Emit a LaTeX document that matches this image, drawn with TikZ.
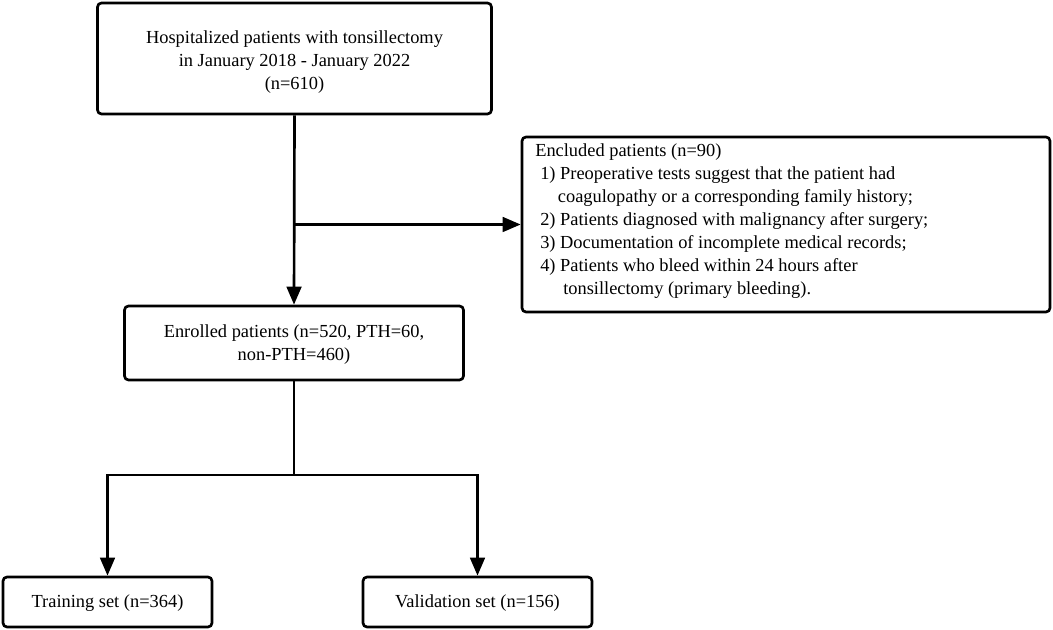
\documentclass[tikz,border=0pt]{standalone}
\usepackage{fontspec}
\setmainfont{Liberation Serif}
\usetikzlibrary{arrows.meta}
\begin{document}
\begin{tikzpicture}[x=0.75pt,y=-0.75pt,
  box/.style={draw, line width=2pt, rounded corners=3pt, inner sep=0pt},
  txt/.style={font=\fontsize{13.8pt}{17.25pt}\selectfont, inner sep=0pt, align=center},
  conn/.style={line width=2pt},
  arr/.style={line width=2pt, -{Triangle[length=13.5pt,width=11pt]}}]
\useasboundingbox (0,0) rectangle (1053,630);
\node[box, minimum width=295.5pt, minimum height=83.25pt] (top) at (294.5,58.5) {};
\node[txt] (toptxt) at (294.5,62) {Hospitalized patients with tonsillectomy\\in January 2018 - January 2022\\(n=610)};
\node[box, minimum width=396pt, minimum height=131.25pt] (excl) at (786,224.5) {};
\node[txt, align=left, anchor=north west] (excltxt) at (535,143) {Encluded patients (n=90)\\
\hspace*{3.75pt}1) Preoperative tests suggest that the patient had\\
\hspace*{17pt}coagulopathy or a corresponding family history;\\
\hspace*{3.75pt}2) Patients diagnosed with malignancy after surgery;\\
\hspace*{3.75pt}3) Documentation of incomplete medical records;\\
\hspace*{3.75pt}4) Patients who bleed within 24 hours after\\
\hspace*{21pt}tonsillectomy (primary bleeding).};
\node[box, minimum width=254.25pt, minimum height=55.5pt] (enr) at (294,343) {};
\node[txt] (enrtxt) at (294,345) {Enrolled patients (n=520, PTH=60,\\non-PTH=460)};
\node[box, minimum width=156.75pt, minimum height=37.5pt] (train) at (107.5,602) {};
\node[txt] (traintxt) at (107.5,603) {Training set (n=364)};
\node[box, minimum width=171.75pt, minimum height=37.5pt] (valid) at (477.5,602) {};
\node[txt] (validtxt) at (477.5,603) {Validation set (n=156)};
\coordinate (j1) at (top.south |- excl.west);
\coordinate (j2) at (294,475);
\draw[arr] (top.south) -- (enr.north);
\draw[arr] (j1) -- (excl.west);
\draw[conn] (enr.south) -- (j2);
\draw[arr] (j2) -| (train.north);
\draw[arr] (j2) -| (valid.north);
\end{tikzpicture}
\end{document}
